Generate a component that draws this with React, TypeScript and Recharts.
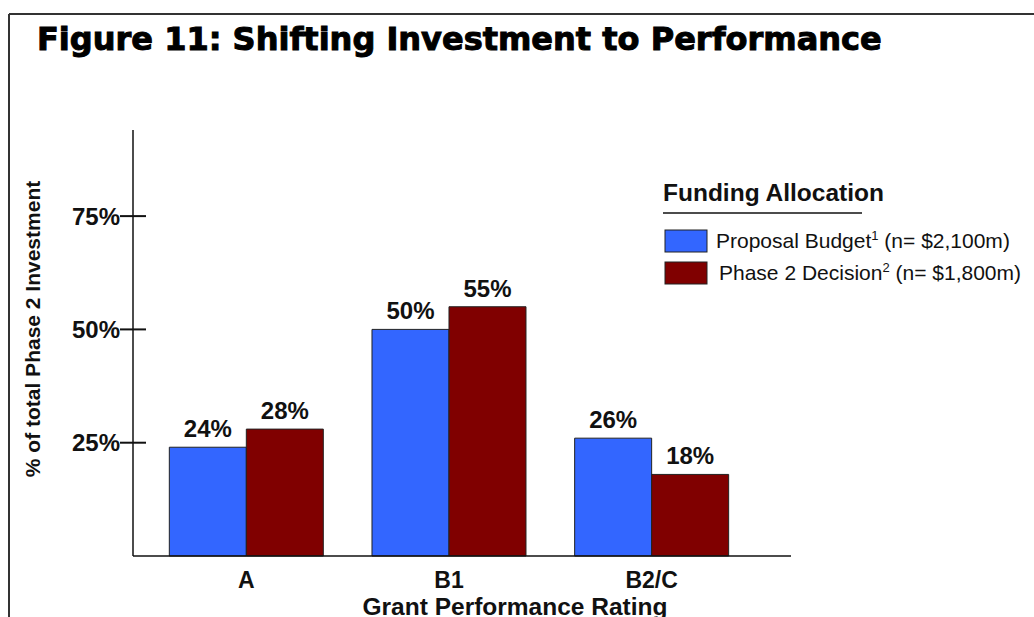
import { Bar, BarChart, LabelList, Legend, XAxis, YAxis, Label } from "recharts";

const CATEGORIES = ["A", "B1", "B2/C"];
const PROPOSAL_BUDGET = [24, 50, 26];
const PHASE2_DECISION = [28, 55, 18];
const Y_TICKS = [25, 50, 75];
const SERIES_NAMES = ["Proposal Budget", "Phase 2 Decision"];
const SERIES_NOTES = ["1", "2"];
const SERIES_TOTALS = ["$2,100m", "$1,800m"];
const SERIES_COLORS = ["#3366ff", "#800000"];

const FONT = "'Liberation Sans', Arial, Helvetica, sans-serif";

const data = CATEGORIES.map((rating, i) => ({
  rating,
  proposal: PROPOSAL_BUDGET[i],
  decision: PHASE2_DECISION[i],
}));

function YTick({ x, y, payload }: any) {
  return (
    <g>
      <line x1={x - 13} x2={x + 13} y1={y} y2={y} stroke="#111" strokeWidth={2} />
      <text
        x={x - 13}
        y={y}
        dy="0.36em"
        textAnchor="end"
        fontFamily={FONT}
        fontWeight={700}
        fontSize={24}
        fill="#111"
      >
        {payload.value}%
      </text>
    </g>
  );
}

function FundingLegend({ payload }: any) {
  // keep the legend in series order, whatever order recharts hands it over in
  const items = [...(payload || [])].sort(
    (a: any, b: any) => SERIES_NAMES.indexOf(a.value) - SERIES_NAMES.indexOf(b.value)
  );
  return (
    <svg width={380} height={120}>
      <text x={8} y={26} fontFamily={FONT} fontWeight={700} fontSize={24.5} fill="#111">
        Funding Allocation
      </text>
      <line x1={8} x2={207} y1={38} y2={38} stroke="#111" strokeWidth={1.5} />
      {items.map((item: any) => {
        const i = SERIES_NAMES.indexOf(item.value);
        return (
          <g key={item.value}>
            <rect
              x={10}
              y={55 + i * 32}
              width={42}
              height={22}
              fill={item.color}
              stroke="#222"
              strokeWidth={1}
            />
            <text x={61 + i * 3} y={73 + i * 32} fontFamily={FONT} fontSize={21} fill="#111">
              {item.value}
              <tspan fontSize={13} dy={-8}>
                {SERIES_NOTES[i]}
              </tspan>
              <tspan fontSize={21} dy={8}>
                {" "}(n= {SERIES_TOTALS[i]})
              </tspan>
            </text>
          </g>
        );
      })}
    </svg>
  );
}

export default function App() {
  return (
    <div
      style={{
        position: "absolute",
        left: 0,
        top: 0,
        width: 1034,
        height: 617,
        overflow: "hidden",
        background: "#fff",
      }}
    >
      <svg width={1034} height={617} style={{ position: "absolute", left: 0, top: 0 }}>
        <line x1={9} x2={1034} y1={14} y2={14} stroke="#333" strokeWidth={2} />
        <line x1={9} x2={9} y1={14} y2={617} stroke="#333" strokeWidth={2} />
        <text
          x={37}
          y={50}
          fontFamily="'DejaVu Sans', sans-serif"
          fontWeight={700}
          fontSize={32}
          fill="#000"
          stroke="#000"
          strokeWidth={1}
        >
          Figure 11: Shifting Investment to Performance
        </text>
      </svg>
      <BarChart
        width={1034}
        height={617}
        data={data}
        margin={{ top: 130, right: 243, bottom: 6, left: 8 }}
        barGap={0}
        barCategoryGap="12%"
        style={{ position: "absolute", left: 0, top: 0 }}
      >
        <XAxis
          dataKey="rating"
          axisLine={{ stroke: "#111", strokeWidth: 1.5 }}
          tickLine={false}
          tickMargin={10}
          height={55}
          padding={{ left: 12, right: 38 }}
          tick={{ fontFamily: FONT, fontWeight: 700, fontSize: 23, fill: "#111" }}
        >
          <Label
            content={({ viewBox }: any) => (
              <text
                x={515}
                y={viewBox.y + 59}
                textAnchor="middle"
                fontFamily={FONT}
                fontWeight={700}
                fontSize={24.5}
                fill="#111"
              >
                Grant Performance Rating
              </text>
            )}
          />
        </XAxis>
        <YAxis
          domain={[0, 94]}
          ticks={Y_TICKS}
          width={125}
          axisLine={{ stroke: "#111", strokeWidth: 1.5 }}
          tickLine={false}
          tickSize={0}
          tickMargin={0}
          tick={<YTick />}
        >
          <Label
            content={({ viewBox }: any) => (
              <text
                x={viewBox.x + 25}
                y={329}
                transform={`rotate(-90 ${viewBox.x + 25} 329)`}
                dy="0.35em"
                textAnchor="middle"
                fontFamily={FONT}
                fontWeight={700}
                fontSize={21}
                fill="#111"
              >
                % of total Phase 2 Investment
              </text>
            )}
          />
        </YAxis>
        <Legend
          layout="vertical"
          align="center"
          verticalAlign="middle"
          content={<FundingLegend />}
          wrapperStyle={{ left: 655, top: 175, width: 380, height: 120 }}
        />
        <Bar
          dataKey="proposal"
          name={SERIES_NAMES[0]}
          fill={SERIES_COLORS[0]}
          stroke="#222"
          strokeWidth={1}
          isAnimationActive={false}
        >
          <LabelList
            dataKey="proposal"
            position="top"
            offset={10}
            formatter={(v: any) => `${v}%`}
            style={{ fontFamily: FONT, fontWeight: 700, fontSize: 24, fill: "#111" }}
          />
        </Bar>
        <Bar
          dataKey="decision"
          name={SERIES_NAMES[1]}
          fill={SERIES_COLORS[1]}
          stroke="#222"
          strokeWidth={1}
          isAnimationActive={false}
        >
          <LabelList
            dataKey="decision"
            position="top"
            offset={10}
            formatter={(v: any) => `${v}%`}
            style={{ fontFamily: FONT, fontWeight: 700, fontSize: 24, fill: "#111" }}
          />
        </Bar>
      </BarChart>
    </div>
  );
}
